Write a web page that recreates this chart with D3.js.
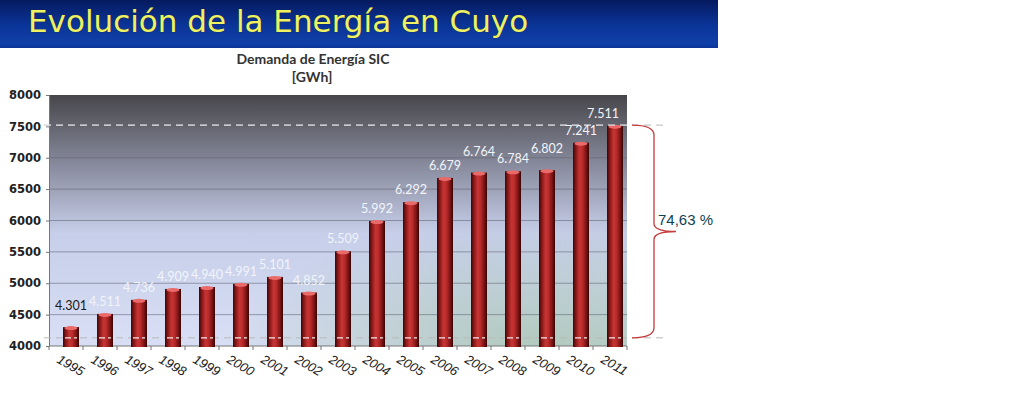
<!DOCTYPE html>
<html>
<head>
<meta charset="utf-8">
<script src="https://cdn.jsdelivr.net/npm/d3@7"></script>
<style>
  body { margin: 0; background: #fff; }
</style>
</head>
<body>
<div id="container"></div>
<script>
// Demanda de Energía SIC, Cuyo 1995-2011

const width = 1018;
const height = 395;

const years = ["1995", "1996", "1997", "1998", "1999", "2000", "2001", "2002", "2003",
               "2004", "2005", "2006", "2007", "2008", "2009", "2010", "2011"];
const demand = [4301, 4511, 4736, 4909, 4940, 4991, 5101, 4852, 5509,
                5992, 6292, 6679, 6764, 6784, 6802, 7241, 7511];
const yTicks = [4000, 4500, 5000, 5500, 6000, 6500, 7000, 7500, 8000];
// levels of the two dashed guide lines (top / bottom of the brace)
const refLevels = [7520, 4130];
const growthLabel = "74,63 %";
// labels lifted a step to keep clear of their neighbours
const raisedLabels = ["1995", "2007", "2009"];

const svg = d3.select("#container")
    .append("svg")
    .attr("width", width)
    .attr("height", height)
    .style("background-color", "white");

const defs = svg.append("defs");

// header band gradient
const hg = defs.append("linearGradient").attr("id", "hdr")
    .attr("x1", 0).attr("y1", 0).attr("x2", 0).attr("y2", 1);
hg.append("stop").attr("offset", "0%").attr("stop-color", "#061a5e");
hg.append("stop").attr("offset", "50%").attr("stop-color", "#0a3396");
hg.append("stop").attr("offset", "90%").attr("stop-color", "#1040a8");
hg.append("stop").attr("offset", "100%").attr("stop-color", "#0c3596");

// plot background
const bg = defs.append("linearGradient").attr("id", "plotbg")
    .attr("x1", 0).attr("y1", 0).attr("x2", 0).attr("y2", 1);
bg.append("stop").attr("offset", "0%").attr("stop-color", "#47474b");
bg.append("stop").attr("offset", "28%").attr("stop-color", "#888b9d");
bg.append("stop").attr("offset", "55%").attr("stop-color", "#c6cee9");
bg.append("stop").attr("offset", "100%").attr("stop-color", "#d8dff5");

const gr = defs.append("radialGradient").attr("id", "greenish")
    .attr("cx", 0.85).attr("cy", 1.05).attr("r", 0.55);
gr.append("stop").attr("offset", "0%").attr("stop-color", "#9fbfa4").attr("stop-opacity", 0.75);
gr.append("stop").attr("offset", "100%").attr("stop-color", "#9fbfa4").attr("stop-opacity", 0);

// bar cylinder gradient
const barg = defs.append("linearGradient").attr("id", "bar")
    .attr("x1", 0).attr("y1", 0).attr("x2", 1).attr("y2", 0);
[["0%", "#3e0606"], ["18%", "#861818"], ["42%", "#c93434"], ["58%", "#bb2c2c"],
 ["82%", "#7c1414"], ["100%", "#360505"]].forEach(s =>
    barg.append("stop").attr("offset", s[0]).attr("stop-color", s[1]));

// header
svg.append("rect")
    .attr("x", 0).attr("y", 0)
    .attr("width", 718).attr("height", 48)
    .attr("fill", "url(#hdr)");

svg.append("text")
    .attr("x", 28).attr("y", 32)
    .attr("fill", "#eef262")
    .attr("stroke", "#1b2a40")
    .attr("stroke-width", 0.6)
    .style("paint-order", "stroke")
    .style("font-family", "DejaVu Sans, Verdana, sans-serif")
    .style("font-size", "31px")
    .text("Evolución de la Energía en Cuyo");

// chart title
svg.append("text")
    .attr("x", 313).attr("y", 64)
    .attr("text-anchor", "middle")
    .attr("fill", "#333")
    .style("font-family", "Lato, sans-serif")
    .style("font-weight", "bold")
    .style("font-size", "14px")
    .text("Demanda de Energía SIC");
svg.append("text")
    .attr("x", 312).attr("y", 82)
    .attr("text-anchor", "middle")
    .attr("fill", "#333")
    .style("font-family", "Lato, sans-serif")
    .style("font-weight", "bold")
    .style("font-size", "14px")
    .text("[GWh]");

// scales
const x = d3.scaleBand().domain(years).range([49, 627]);
const y = d3.scaleLinear().domain([4000, 8000]).range([346, 95]);
const barW = 16;
const barX = d => x(d) + 14;

const plot = svg.append("g");

plot.append("rect")
    .attr("x", x.range()[0]).attr("y", y(8000))
    .attr("width", x.range()[1] - x.range()[0])
    .attr("height", y(4000) - y(8000))
    .attr("fill", "url(#plotbg)");
plot.append("rect")
    .attr("x", x.range()[0]).attr("y", y(8000))
    .attr("width", x.range()[1] - x.range()[0])
    .attr("height", y(4000) - y(8000))
    .attr("fill", "url(#greenish)");

// gridlines
plot.selectAll(".grid")
    .data(yTicks.filter(t => t > 4000 && t < 8000))
    .join("line")
    .attr("x1", x.range()[0]).attr("x2", x.range()[1])
    .attr("y1", d => y(d)).attr("y2", d => y(d))
    .attr("stroke", "#5e6070")
    .attr("stroke-opacity", 0.55)
    .attr("stroke-width", 1);

// y axis
const yAxis = svg.append("g")
    .attr("transform", `translate(${x.range()[0]},0)`)
    .call(d3.axisLeft(y).tickValues(yTicks).tickSize(3).tickFormat(d3.format("d")));
yAxis.select(".domain").attr("stroke", "#777");
yAxis.selectAll(".tick line").attr("stroke", "#777");
yAxis.selectAll("text")
    .attr("x", -8)
    .attr("fill", "#222")
    .style("font-family", "DejaVu Sans, sans-serif")
    .style("font-weight", "bold")
    .style("font-size", "11.5px");

// x axis
const xAxis = svg.append("g")
    .attr("transform", `translate(0,${y(4000)})`);
xAxis.append("line")
    .attr("x1", x.range()[0]).attr("x2", x.range()[1])
    .attr("stroke", "#777");
xAxis.selectAll(".xt")
    .data(years.concat(["end"]))
    .join("line")
    .attr("x1", (d, i) => x.range()[0] + i * x.bandwidth())
    .attr("x2", (d, i) => x.range()[0] + i * x.bandwidth())
    .attr("y1", 0).attr("y2", 4)
    .attr("stroke", "#777");
xAxis.selectAll(".yl")
    .data(years)
    .join("text")
    .attr("transform", d => `translate(${barX(d) - 7},${16}) rotate(30)`)
    .attr("fill", "#222")
    .style("font-family", "Liberation Sans, Arial, sans-serif")
    .style("font-style", "italic")
    .style("font-size", "13px")
    .text(d => d);

// guide dashed lines
refLevels.forEach(v => {
    svg.append("line")
        .attr("x1", 44).attr("x2", 664)
        .attr("y1", y(v)).attr("y2", y(v))
        .attr("stroke", "#b8b8b8")
        .attr("stroke-dasharray", "7,5");
});

// bars
const bars = svg.append("g");
bars.selectAll("rect")
    .data(years)
    .join("rect")
    .attr("x", d => barX(d))
    .attr("y", (d, i) => y(demand[i]))
    .attr("width", barW)
    .attr("height", (d, i) => y(4000) - y(demand[i]) + 1)
    .attr("fill", "url(#bar)");
bars.selectAll("ellipse")
    .data(years)
    .join("ellipse")
    .attr("cx", d => barX(d) + barW / 2)
    .attr("cy", (d, i) => y(demand[i]) + 1)
    .attr("rx", barW / 2 - 1.5)
    .attr("ry", 2)
    .attr("fill", "#ea6a6a");

// white dashes where the lower guide line crosses the bars
bars.selectAll(".dash")
    .data(years)
    .join("line")
    .attr("x1", d => barX(d) + 2).attr("x2", d => barX(d) + barW - 2)
    .attr("y1", y(refLevels[1])).attr("y2", y(refLevels[1]))
    .attr("stroke", "#f4e8e8")
    .attr("stroke-width", 1.2)
    .attr("stroke-dasharray", "6,3");

// top guide line in white over the plot
svg.append("line")
    .attr("x1", 44).attr("x2", 627)
    .attr("y1", y(refLevels[0])).attr("y2", y(refLevels[0]))
    .attr("stroke", "#e8e8ec")
    .attr("stroke-dasharray", "7,5");

// value labels
const fmt = v => d3.format(",")(v).replace(/,/g, ".");
const labels = svg.append("g").selectAll("text")
    .data(years)
    .join("text")
    .attr("x", d => barX(d) + barW / 2)
    .attr("y", (d, i) => y(demand[i]) - (raisedLabels.includes(d) ? 17 : 8))
    .attr("text-anchor", "middle")
    .attr("fill", (d, i) => i === 0 ? "#1a1a1a" : "#f2f4fa")
    .style("font-family", "Lato, sans-serif")
    .style("font-size", "12.5px")
    .text((d, i) => fmt(demand[i]));
// keep labels inside the plot area on the right
labels.each(function () {
    const w = this.getComputedTextLength();
    const cx = +this.getAttribute("x");
    const maxCx = x.range()[1] - 8 - w / 2;
    if (cx > maxCx) this.setAttribute("x", maxCx);
});

// brace
const yt = y(refLevels[0]), yb = y(refLevels[1]), ym = (yt + yb) / 2;
const bx = 654, bx0 = 632, tip = 676;
svg.append("path")
    .attr("d", `M${bx0},${yt} Q${bx},${yt} ${bx},${yt + 10} L${bx},${ym - 8} Q${bx},${ym} ${tip},${ym}` +
               ` Q${bx},${ym} ${bx},${ym + 8} L${bx},${yb - 10} Q${bx},${yb} ${bx0},${yb}`)
    .attr("fill", "none")
    .attr("stroke", "#c43c3c")
    .attr("stroke-width", 1.3);

svg.append("text")
    .attr("x", 658).attr("y", ym - 6)
    .attr("fill", "#0f3f52")
    .style("font-family", "Liberation Sans, Arial, sans-serif")
    .style("font-size", "15px")
    .text(growthLabel);
</script>
</body>
</html>
